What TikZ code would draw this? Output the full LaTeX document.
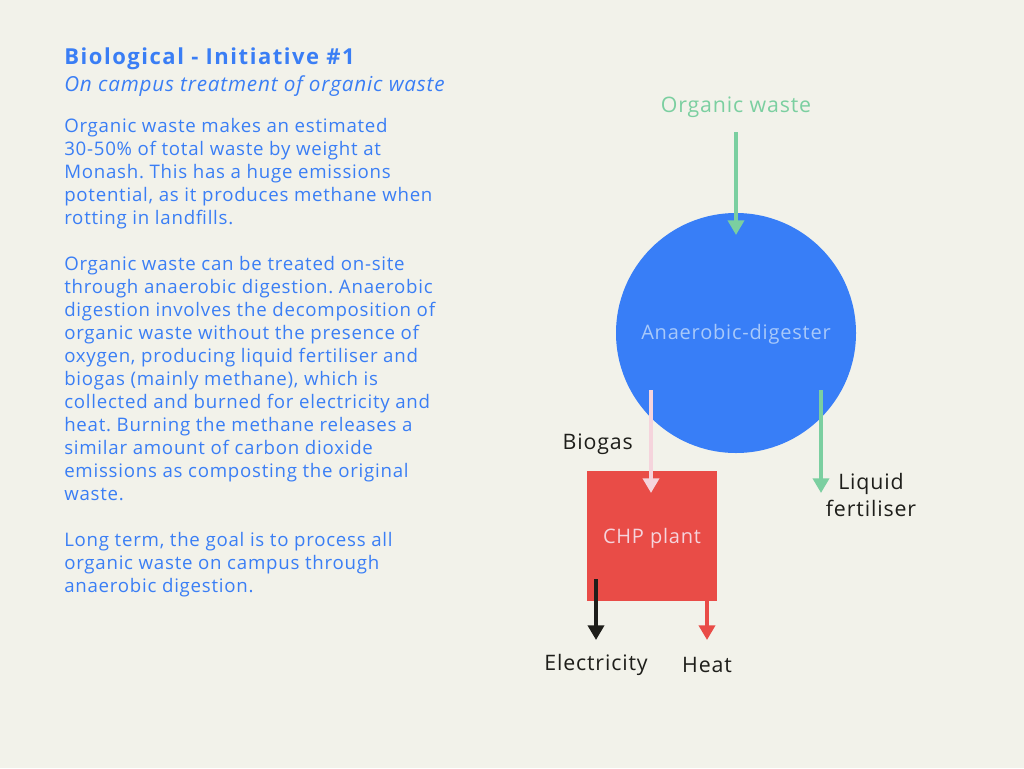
\documentclass[tikz,border=0pt]{standalone}
\usepackage{fontspec}
\setmainfont{Open Sans}[LetterSpace=4]
\usetikzlibrary{arrows.meta}
\frenchspacing

\definecolor{paper}{HTML}{F2F2EA}
\definecolor{textblue}{HTML}{3A7EF5}
\definecolor{digblue}{HTML}{387EF7}
\definecolor{paleblue}{HTML}{A8C9FA}
\definecolor{leafgreen}{HTML}{7BCFA0}
\definecolor{gaspink}{HTML}{F5D4DC}
\definecolor{plantred}{HTML}{E94C47}
\definecolor{ink}{HTML}{1E1E1A}

\begin{document}
\begin{tikzpicture}[x=0.75pt, y=-0.75pt,
    body/.style={anchor=north west, inner sep=0pt, align=left, text=textblue,
      font=\fontsize{14}{17.25}\selectfont},
    label/.style={inner sep=0pt, font=\fontsize{16}{20}\selectfont, text=ink},
    flow/.style={line width=3pt, -{Triangle[width=12pt, length=11pt]}}]
  % ------------------------------------------------------------------ canvas
  \fill[paper] (0,0) rectangle (1024,768);
  \useasboundingbox (0,0) rectangle (1024,768);
  % ------------------------------------------------------------------ the text column
  \node[body, font=\bfseries\fontsize{16.5}{20}\selectfont\addfontfeature{LetterSpace=7}] (title) at (64,48)
    {Biological - Initiative \#1};
  \node[body, font=\itshape\fontsize{15.5}{20}\selectfont] (subtitle) at (64,75)
    {On campus treatment of organic waste};
  \node[body] (parA) at (64,118)
    {Organic waste makes an estimated\\
     30-50\% of total waste by weight at\\
     Monash. This has a huge emissions\\
     potential, as it produces methane when\\
     rotting in landfills.};
  \node[body] (parB) at (64,256)
    {Organic waste can be treated on-site\\
     through anaerobic digestion. Anaerobic\\
     digestion involves the decomposition of\\
     organic waste without the presence of\\
     oxygen, producing liquid fertiliser and\\
     biogas (mainly methane), which is\\
     collected and burned for electricity and\\
     heat. Burning the methane releases a\\
     similar amount of carbon dioxide\\
     emissions as composting the original\\
     waste.};
  \node[body] (parC) at (64,532)
    {Long term, the goal is to process all\\
     organic waste on campus through\\
     anaerobic digestion.};
  % ------------------------------------------------------------------ the digester and the plant
  \node[circle, fill=digblue, minimum size=180pt, inner sep=0pt] (digester) at (736,333) {};
  \node[text=paleblue, font=\fontsize{15}{18}\selectfont] (diglabel) at (736,334) {Anaerobic-digester};
  \node[rectangle, fill=plantred, minimum width=97.5pt, minimum height=97.5pt, inner sep=0pt] (chp) at (652,536) {};
  \node[text=gaspink, font=\fontsize{15}{18}\selectfont] (chplabel) at (652,538) {CHP plant};
  % ------------------------------------------------------------------ labels
  \node[label, text=leafgreen] (waste) at (736,107) {Organic waste};
  \node[label, anchor=east] (biogas) at (633,444) {Biogas};
  \node[label, align=center] (fert) at (871,495) {Liquid\\fertiliser};
  \node[label] (elec) at (596,665) {Electricity};
  \node[label] (heat) at (707,665) {Heat};
  % ------------------------------------------------------------------ flows
  \coordinate (wasteIn) at (736,132);
  \coordinate (wasteEnd) at (736,235);
  \coordinate (gasOut) at (651,390);
  \coordinate (gasEnd) at (651,493);
  \coordinate (fertOut) at (821,390);
  \coordinate (fertEnd) at (821,493);
  \coordinate (elecOut) at (596,579);
  \coordinate (elecEnd) at (596,640);
  \coordinate (heatOut) at (707,600);
  \coordinate (heatEnd) at (707,640);
  \draw[flow, leafgreen] (wasteIn) -- (wasteEnd);
  \draw[flow, gaspink] (gasOut) -- (gasEnd);
  \draw[flow, leafgreen] (fertOut) -- (fertEnd);
  \draw[flow, ink] (elecOut) -- (elecEnd);
  \draw[flow, plantred] (heatOut) -- (heatEnd);
\end{tikzpicture}
\end{document}
